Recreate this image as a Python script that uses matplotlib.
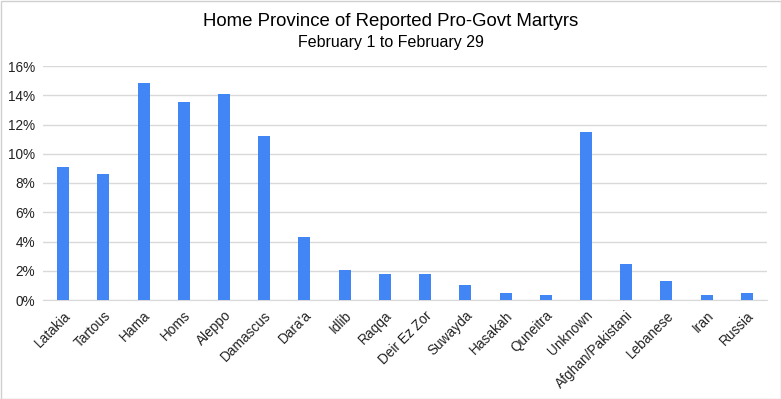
import matplotlib
matplotlib.use("Agg")
import matplotlib.pyplot as plt
from matplotlib.ticker import FuncFormatter
from matplotlib.patches import Rectangle

plt.rcParams['font.family'] = ['Liberation Sans', 'DejaVu Sans']

categories = ["Latakia", "Tartous", "Hama", "Homs", "Aleppo", "Damascus", "Dara'a",
              "Idlib", "Raqqa", "Deir Ez Zor", "Suwayda", "Hasakah", "Quneitra",
              "Unknown", "Afghan/Pakistani", "Lebanese", "Iran", "Russia"]
values = [9.09, 8.62, 14.84, 13.54, 14.11, 11.21, 4.31, 2.05, 1.78, 1.78, 1.03,
          0.48, 0.34, 11.49, 2.46, 1.30, 0.34, 0.48]
yticks = [0, 2, 4, 6, 8, 10, 12, 14, 16]

fig = plt.figure(figsize=(7.81, 3.99), dpi=100)
ax = fig.add_axes([43/781, 1-300/399, (767-43)/781, (300-66)/399])

x = range(len(categories))
ax.bar(x, values, width=0.3, color="#4285f4", zorder=3)
ax.set_xlim(-0.5, len(categories)-0.5)
ax.set_ylim(0, 16)
ax.set_yticks(yticks)
ax.yaxis.set_major_formatter(FuncFormatter(lambda v, p: f"{int(v)}%"))
ax.grid(axis='y', color="#d9d9d9", linewidth=1, zorder=0)
for s in ['top', 'right', 'left']:
    ax.spines[s].set_visible(False)
ax.spines['bottom'].set_color("#d9d9d9")
ax.tick_params(axis='both', length=0, labelsize=9.8, colors="#222222")
ax.tick_params(axis='y', pad=5.5)
ax.tick_params(axis='x', pad=6)
ax.set_xticks(list(x))
ax.set_xticklabels(categories, rotation=45, ha='right', rotation_mode='anchor')

fig.text(0.5, 1-22/399, "Home Province of Reported Pro-Govt Martyrs", ha='center', va='center',
         fontsize=13.4, color="#000000")
fig.text(0.5, 1-42/399, "February 1 to February 29", ha='center', va='center',
         fontsize=11.5, color="#000000")

fig.patches.append(Rectangle((0.5/781, 0.5/399), 1-1/781, 1-1/399, transform=fig.transFigure,
                             fill=False, edgecolor="#d0d0d0", linewidth=1))

fig.savefig("out.png", dpi=100)
